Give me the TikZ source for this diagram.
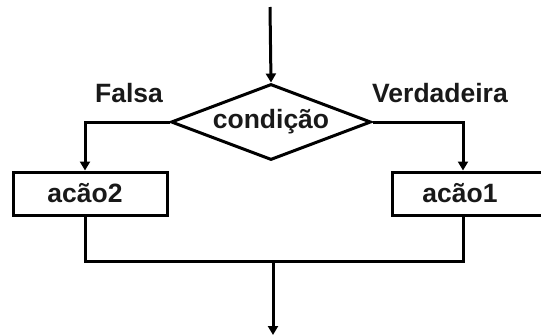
\documentclass[tikz,border=0pt]{standalone}
\usepackage{fontspec}
\setmainfont{Liberation Sans}
\usetikzlibrary{shapes.geometric,arrows.meta}
\begin{document}
\begin{tikzpicture}[x=1pt,y=-1pt,line width=3pt,
  txt/.style={font=\fontsize{26.5pt}{30pt}\selectfont\bfseries, inner sep=0pt, text=black!90},
  box/.style={draw, minimum width=154pt, minimum height=43pt, inner sep=0pt},
  cond/.style={draw, diamond, aspect=2.63, minimum width=200pt, minimum height=76pt, inner sep=0pt,
    font=\fontsize{26.5pt}{30pt}\selectfont\bfseries, text=black!90},
  arr/.style={-{Triangle[width=10pt,length=9pt]}}]
\useasboundingbox (0,0) rectangle (541,335);
\coordinate (top) at (270,7);
\node[cond] (d) at (271,122) {condição};
\node[box] (a2) at (90,193.5) {};
\node[box] (a1) at (469,193.5) {};
\node[txt] (t2) at (85,193) {acão2};
\node[txt] (t1) at (460,193) {acão1};
\node[txt] (f) at (129,93) {Falsa};
\node[txt] (v) at (440,93) {Verdadeira};
\coordinate (a2n) at ([xshift=-5pt]a2.north);
\coordinate (a1n) at ([xshift=-6pt]a1.north);
\coordinate (a2s) at ([xshift=-5pt]a2.south);
\coordinate (a1s) at ([xshift=-6pt]a1.south);
\coordinate (m) at (273,261);
\coordinate (out) at (273,335);
\draw[arr] (top) -- (d.north);
\draw[arr] (d.west) -| (a2n);
\draw[arr] (d.east) -| (a1n);
\draw (a2s) |- (m) -| (a1s);
\draw[arr] (m) -- (out);
\end{tikzpicture}
\end{document}
